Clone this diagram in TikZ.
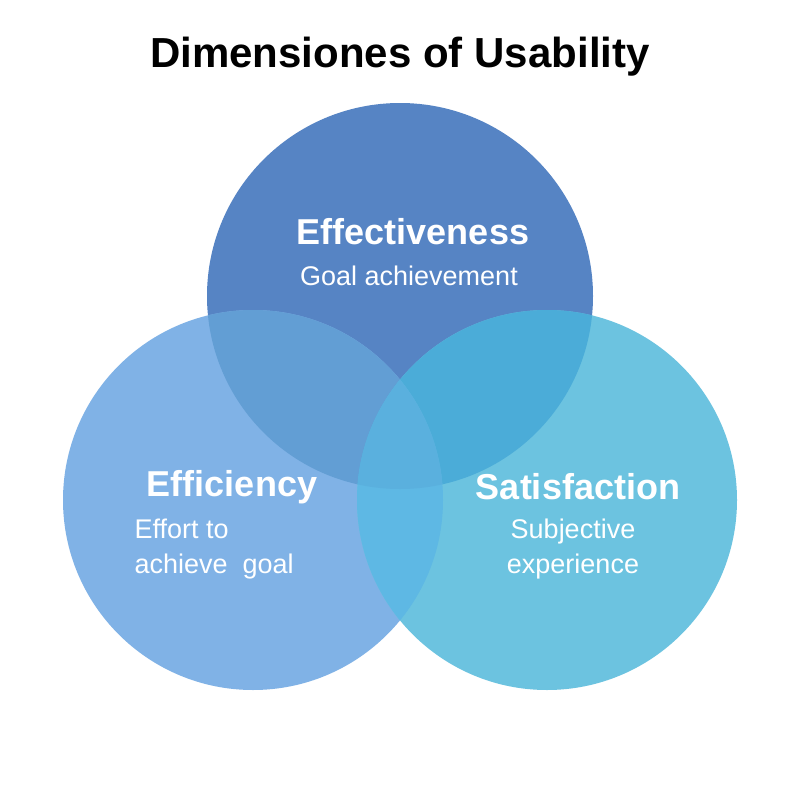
\documentclass[tikz,border=0pt]{standalone}
\usepackage{fontspec}
\setmainfont{Liberation Sans}
\begin{document}
\begin{tikzpicture}[x=1pt,y=-1pt,
  head/.style={text=white,font=\bfseries\fontsize{36}{40}\selectfont},
  sub/.style={text=white,font=\fontsize{27}{35}\selectfont}]
\useasboundingbox (0,0) rectangle (800,800);
\fill[white] (0,0) rectangle (800,800);
\def\T{(400,296) circle (193)}
\def\L{(253,500) circle (190)}
\def\R{(547,500) circle (190)}
\fill[color={rgb,255:red,86;green,132;blue,196}] \T;
\fill[color={rgb,255:red,128;green,178;blue,230}] \L;
\fill[color={rgb,255:red,108;green,195;blue,224}] \R;
\begin{scope}\clip \T; \fill[color={rgb,255:red,98;green,158;blue,212}] \L; \end{scope}
\begin{scope}\clip \T; \fill[color={rgb,255:red,75;green,172;blue,216}] \R; \end{scope}
\begin{scope}\clip \L; \fill[color={rgb,255:red,94;green,184;blue,228}] \R; \end{scope}
\begin{scope}\clip \T; \clip \L; \fill[color={rgb,255:red,90;green,176;blue,222}] \R; \end{scope}
\node (title) at (400,57) {\bfseries\fontsize{42}{46}\selectfont Dimensiones of Usability};
\node[head] (eff) at (413,232) {Effectiveness};
\node[sub] (effs) at (409,276) {Goal achievement};
\node[head] (efc) at (232,487) {Efficiency};
\node[sub,align=left,anchor=north west] (efcs) at (131,515) {Effort to\\achieve\ \ goal};
\node[head] (sat) at (578,487) {Satisfaction};
\node[sub,align=center,anchor=north] (sats) at (573,515) {Subjective\\experience};
\end{tikzpicture}
\end{document}
